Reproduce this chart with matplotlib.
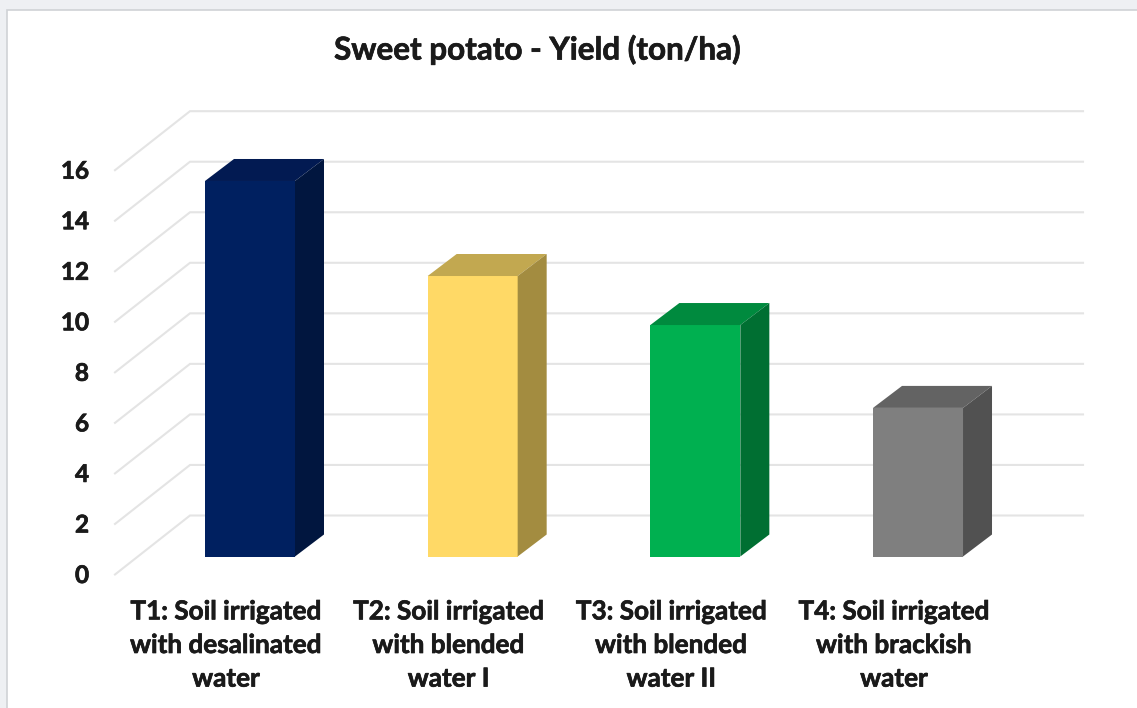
import matplotlib.pyplot as plt
import matplotlib.patheffects as pe
from matplotlib.patches import Polygon, Rectangle

W, H = 1137, 708
plt.rcParams["font.family"] = ["Lato", "DejaVu Sans"]
plt.rcParams["font.weight"] = "bold"

categories = [
    "T1: Soil irrigated\nwith desalinated\nwater",
    "T2: Soil irrigated\nwith blended\nwater I",
    "T3: Soil irrigated\nwith blended\nwater II",
    "T4: Soil irrigated\nwith brackish\nwater",
]
yields = [14.86, 11.1, 9.16, 5.88]
y_ticks = [0, 2, 4, 6, 8, 10, 12, 14, 16]

front_colors = ["#002060", "#FFD966", "#00B050", "#7F7F7F"]
top_colors = ["#021A52", "#C2A850", "#008A3E", "#636363"]
side_colors = ["#01163F", "#A38C40", "#006F32", "#515151"]

# picture scale: one category step and one yield unit, in pixels
X0, STEP = 250, 222.67
Y0, UNIT = 556.5, 25.27


def px_x(p):
    return (p - X0) / STEP


def px_dy(p):
    return p / UNIT


BAR_W = 90 / STEP
DEPTH_X, DEPTH_Y = 29 / STEP, px_dy(22)
heavier = [pe.withStroke(linewidth=0.5, foreground="#1A1A1A")]

fig = plt.figure(figsize=(W / 100, H / 100), dpi=100, facecolor="#EEF0F3")
# panel runs off the right and bottom edges, so only left and top borders show
fig.add_artist(Rectangle((7 / W, -0.01), 1.01, (H - 10) / H + 0.01, transform=fig.transFigure,
                         facecolor="white", edgecolor="#CFD2D6", linewidth=1.2, zorder=-1))

ax = fig.add_axes([0, 0, 1, 1], zorder=1)
ax.set_xlim(px_x(0), px_x(W))
ax.set_ylim(-px_dy(H - Y0), px_dy(Y0))
ax.axis("off")

# back wall lines with the diagonal running to the front
wall_x, wall_dy = px_x(190), px_dy(41)
front_x, front_dy = px_x(115), px_dy(-18)
right_x = px_x(1083)
for v in y_ticks:
    ax.plot([front_x, wall_x, right_x], [v + front_dy, v + wall_dy, v + wall_dy],
            color="#E4E4E4", lw=1.5, zorder=1, solid_joinstyle="miter")
    ax.text(px_x(89), v + px_dy(-19), str(v), ha="right", va="center", fontsize=17.5,
            color="#1A1A1A", path_effects=heavier)

positions = range(len(categories))
ax.bar(positions, yields, width=BAR_W, color=front_colors, zorder=3)
for i, val in zip(positions, yields):
    left, right = i - BAR_W / 2, i + BAR_W / 2
    ax.add_patch(Polygon([(left, val), (right, val), (right + DEPTH_X, val + DEPTH_Y), (left + DEPTH_X, val + DEPTH_Y)],
                         facecolor=top_colors[i], zorder=3))
    ax.add_patch(Polygon([(right, 0), (right + DEPTH_X, DEPTH_Y), (right + DEPTH_X, val + DEPTH_Y), (right, val)],
                         facecolor=side_colors[i], zorder=3))
    ax.text(i - 24 / STEP, px_dy(Y0 - 645), categories[i], ha="center", va="center", fontsize=18.8,
            color="#1A1A1A", linespacing=1.48, path_effects=heavier)

ax.text(px_x(537), px_dy(Y0 - 50), "Sweet potato - Yield (ton/ha)", ha="center", va="center",
        fontsize=22.6, color="#1A1A1A", path_effects=heavier)

fig.savefig("out.png", dpi=100, facecolor=fig.get_facecolor())
